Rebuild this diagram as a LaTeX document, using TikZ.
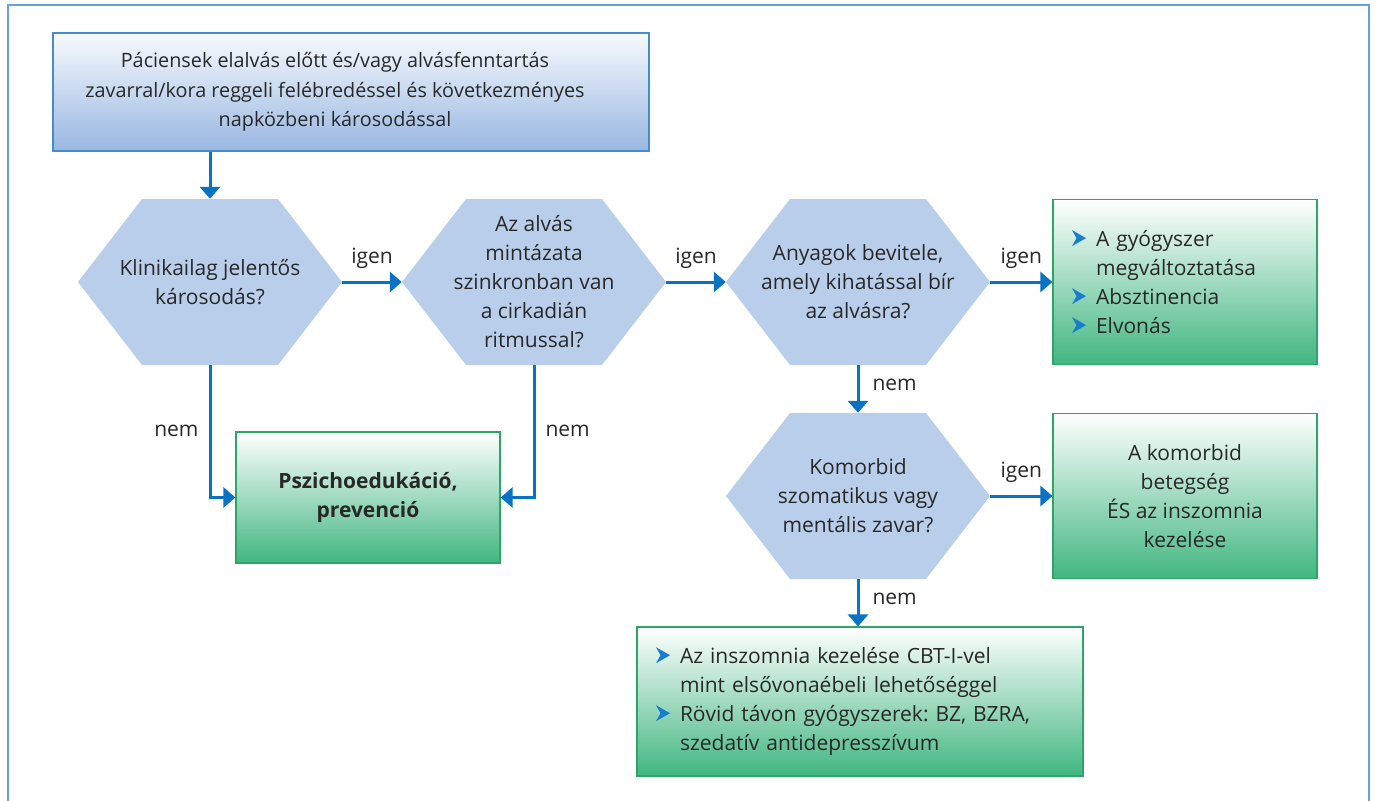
\documentclass[tikz,border=0pt]{standalone}
\usepackage{fontspec}
\setmainfont{Open Sans}
\frenchspacing
\usetikzlibrary{arrows.meta,calc}
\definecolor{framec}{RGB}{100,163,215}
\definecolor{topline}{RGB}{70,140,205}
\definecolor{toptop}{RGB}{247,250,253}
\definecolor{topbot}{RGB}{152,183,225}
\definecolor{hexc}{RGB}{185,206,234}
\definecolor{arrc}{RGB}{10,114,194}
\definecolor{grline}{RGB}{45,165,105}
\definecolor{grbot}{RGB}{65,182,128}
\definecolor{bulc}{RGB}{25,125,205}
\definecolor{txt}{RGB}{40,40,40}
\newcommand{\bul}{\tikz[x=1pt,y=1pt,baseline=0pt]\fill[bulc] (0,0.5) -- (14,8.5) -- (0,16.5) -- (4.5,8.5) -- cycle;}
\newcommand{\bitem}[1]{\makebox[24pt][l]{\bul}#1}
\newcommand{\bcont}[1]{\hspace*{24pt}#1}
\newcommand{\tline}[1]{\makebox[560pt][c]{#1\hspace{32pt}}}
\begin{document}
\begin{tikzpicture}[x=1pt,y=-1pt,
  txtf/.style={font=\fontsize{21}{29}\selectfont, text=txt},
  hexnode/.style={txtf, minimum width=264pt, minimum height=166pt, inner sep=0pt, align=center,
    path picture={\fill[hexc] ([xshift=64pt]path picture bounding box.north west) -- ([xshift=-64pt]path picture bounding box.north east) -- (path picture bounding box.east) -- ([xshift=-64pt]path picture bounding box.south east) -- ([xshift=64pt]path picture bounding box.south west) -- (path picture bounding box.west) -- cycle;}},
  greenbox/.style={draw=grline, line width=1.2pt, top color=white, bottom color=grbot, txtf},
  arr/.style={draw=arrc, line width=3pt, -{Triangle[width=20pt,length=12pt]}},
  lab/.style={txtf, inner sep=0pt}]
\useasboundingbox (0,0) rectangle (1375,800);
\fill[white] (0,0) rectangle (1375,800);
\draw[framec, line width=1.5pt] (8,5) rectangle (1369,830);

\node[draw=topline, line width=1.5pt, top color=toptop, bottom color=topbot, minimum width=596pt, minimum height=118pt, inner sep=0pt, align=center, font=\fontsize{19.8}{29.5}\selectfont, text=txt] (top) at (351,92)
  {\tline{Páciensek elalvás előtt és/vagy alvásfenntartás}\\\tline{zavarral/kora reggeli felébredéssel és következményes}\\\tline{napközbeni károsodással}};

\node[hexnode] (h1) at (210,282) {Klinikailag jelentős\\károsodás?};
\node[hexnode] (h2) at (534,282) {Az alvás\\mintázata\\szinkronban van\\a cirkadián\\ritmussal?};
\node[hexnode] (h3) at (858,282) {Anyagok bevitele,\\amely kihatással bír\\az alvásra?};
\node[hexnode] (h4) at (858,496) {Komorbid\\szomatikus vagy\\mentális zavar?};

\node[greenbox, minimum width=264pt, minimum height=165pt, text width=226pt, inner xsep=19pt, align=left] (g1) at (1185,282)
  {\bitem{A gyógyszer}\\\bcont{megváltoztatása}\\\bitem{Absztinencia}\\\bitem{Elvonás}};
\node[greenbox, minimum width=264pt, minimum height=165pt, align=center] (g2) at (1185,496)
  {A komorbid\\betegség\\ÉS az inszomnia\\kezelése};
\node[greenbox, minimum width=264pt, minimum height=131pt, align=center, font=\fontsize{21}{29}\selectfont\bfseries] (psz) at (368,497.5)
  {Pszichoedukáció,\\prevenció};
\node[greenbox, minimum width=446pt, minimum height=149pt, text width=408pt, inner xsep=19pt, align=left] (bot) at (860,701.5)
  {\bitem{Az inszomnia kezelése CBT-I-vel}\\\bcont{mint elsővonaébeli lehetőséggel}\\\bitem{Rövid távon gyógyszerek: BZ, BZRA,}\\\bcont{szedatív antidepresszívum}};

\draw[arr] (top.south -| h1.north) -- (h1.north);
\draw[arr] (h1.east) -- node[lab, midway, yshift=24pt]{igen} (h2.west);
\draw[arr] (h2.east) -- node[lab, midway, yshift=24pt]{igen} (h3.west);
\draw[arr] (h3.east) -- node[lab, midway, yshift=24pt]{igen} (g1.west);
\draw[arr] (h4.east) -- node[lab, midway, yshift=24pt]{igen} (g2.west);
\draw[arr] (h3.south) -- node[lab, midway, anchor=west, xshift=13pt, yshift=4pt]{nem} (h4.north);
\draw[arr] (h4.south) -- node[lab, midway, anchor=west, xshift=13pt, yshift=4pt]{nem} (h4.south |- bot.north);
\draw[arr] (h1.south) |- node[lab, pos=0.25, anchor=east, xshift=-10pt]{nem} (psz.west);
\draw[arr] (h2.south) |- node[lab, pos=0.25, anchor=west, xshift=10pt]{nem} (psz.east);
\end{tikzpicture}
\end{document}
